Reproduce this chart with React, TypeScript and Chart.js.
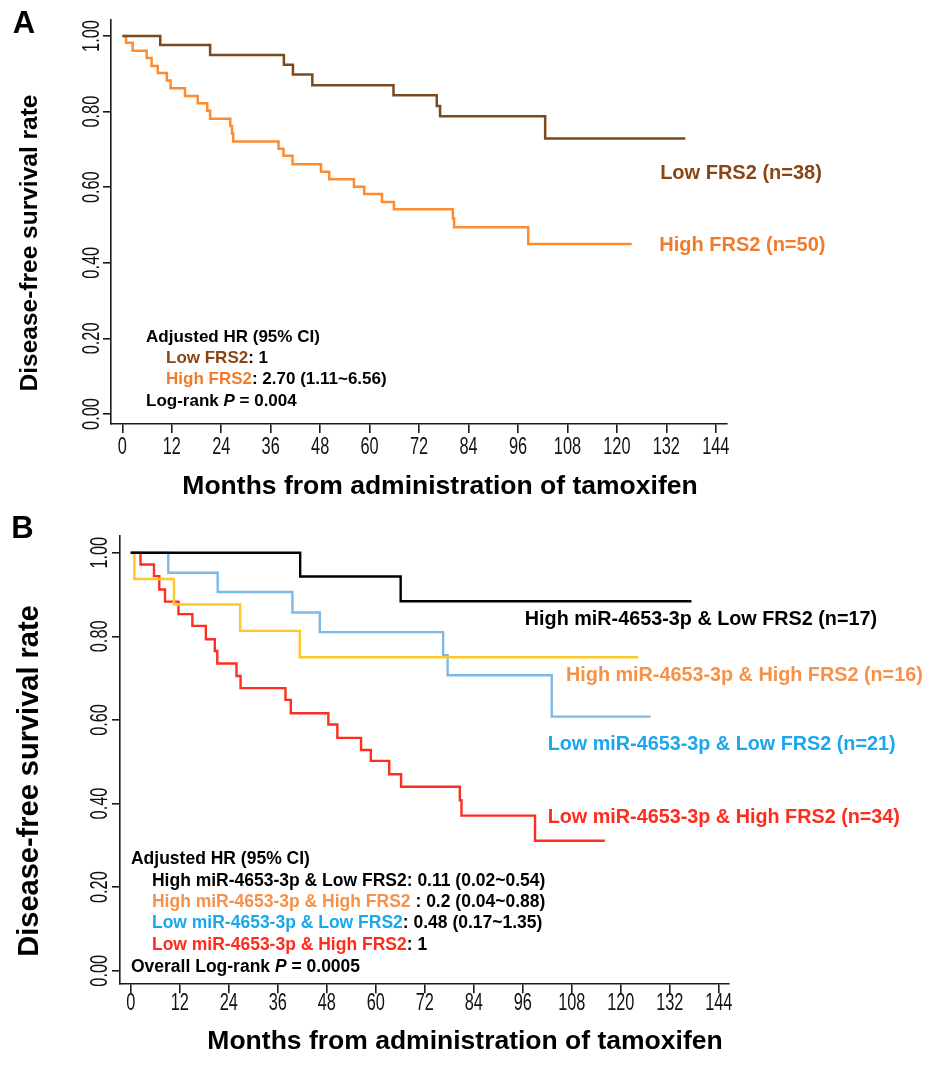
import { useEffect, useRef } from "react";
import { Chart, registerables } from "chart.js";

Chart.register(...registerables);

// ---------------- shared axis data ----------------
const monthTicks = [0, 12, 24, 36, 48, 60, 72, 84, 96, 108, 120, 132, 144];
const monthTickLabels = ["0", "12", "24", "36", "48", "60", "72", "84", "96", "108", "120", "132", "144"];
const survivalTicks = [0, 0.2, 0.4, 0.6, 0.8, 1.0];
const survivalTickLabels = ["0.00", "0.20", "0.40", "0.60", "0.80", "1.00"];

// ---------------- panel A : FRS2 ----------------
const lowFrs2Months = [0, 9.2, 21.3, 39.2, 41.4, 46.1, 65.8, 76.3, 77.1, 102.6, 136.6];
const lowFrs2Survival = [1, 0.976, 0.95, 0.924, 0.898, 0.87, 0.843, 0.815, 0.788, 0.729, 0.729];

const highFrs2Months = [
  0, 0.9, 2.5, 5.9, 7.1, 8.6, 10.8, 11.7, 15.2, 18.3, 20.6, 21.3, 26.2, 26.6, 26.9, 37.9, 39.1,
  41.3, 48.2, 50.2, 56.2, 58.7, 63.0, 65.9, 80.2, 80.5, 98.5, 123.6,
];
const highFrs2Survival = [
  1, 0.982, 0.961, 0.942, 0.921, 0.902, 0.882, 0.862, 0.841, 0.822, 0.802, 0.781, 0.762, 0.742,
  0.721, 0.702, 0.683, 0.661, 0.641, 0.621, 0.601, 0.582, 0.561, 0.542, 0.518, 0.494, 0.45, 0.45,
];

// ---------------- panel B : miR-4653-3p x FRS2 ----------------
const highMirLowFrs2Months = [0, 41.5, 66.1, 137.3];
const highMirLowFrs2Survival = [1, 0.943, 0.884, 0.884];

const highMirHighFrs2Months = [0, 0.9, 10.6, 26.8, 41.4, 124.3];
const highMirHighFrs2Survival = [1, 0.937, 0.876, 0.813, 0.75, 0.75];

const lowMirLowFrs2Months = [0, 9.2, 21.3, 39.6, 46.3, 76.5, 77.6, 103.1, 127.3];
const lowMirLowFrs2Survival = [1, 0.952, 0.906, 0.857, 0.81, 0.755, 0.707, 0.608, 0.608];

const lowMirHighFrs2Months = [
  0, 2.4, 5.7, 7.0, 8.4, 11.7, 15.1, 18.4, 20.6, 21.2, 25.9, 26.9, 37.9, 39.2, 48.4, 50.6, 56.4,
  58.8, 63.3, 66.2, 80.6, 81.0, 99.0, 116.1,
];
const lowMirHighFrs2Survival = [
  1, 0.972, 0.944, 0.912, 0.883, 0.853, 0.825, 0.793, 0.765, 0.735, 0.705, 0.676, 0.648, 0.616,
  0.589, 0.557, 0.528, 0.502, 0.47, 0.44, 0.408, 0.371, 0.311, 0.311,
];

// ---------------- text ----------------
const Y_TITLE = "Disease-free survival rate";
const X_TITLE = "Months from administration of tamoxifen";

const SANS = '"Liberation Sans", Arial, Helvetica, sans-serif';

type Seg = { text: string; color: string; italic?: boolean };
type TextLine = { x: number; y: number; segs: Seg[] };
type Series = { months: number[]; surv: number[]; color: string; width: number };

type PanelCfg = {
  height: number;
  padding: { top: number; left: number; right: number; bottom: number };
  yAxisWidth: number;
  xAxisHeight: number;
  xMin: number;
  xMax: number;
  yMin: number;
  yMax: number;
  xTickLen: number;
  yTickLen: number;
  xLabelOffset: number;
  yLabelOffset: number;
  series: Series[];
  labels: TextLine[];
  labelSize: number;
  notes: TextLine[];
  noteSize: number;
  yTitle: { x: number; y: number; size: number };
  xTitle: { x: number; y: number; size: number };
  letter: { text: string; x: number; y: number; size: number };
};

const TICK_FONT_SIZE = 23;
const TICK_SQUEEZE = 0.71;

const BROWN_LINE = "#7a4a1f";
const BROWN_TEXT = "#8b4513";
const ORANGE_LINE = "#ff8b2d";
const ORANGE_TEXT = "#f07b2c";
const BLACK = "#000000";
const YELLOW_LINE = "#ffc72c";
const BLUE_LINE = "#7db9e8";
const RED_LINE = "#ff2d1f";
const ORANGE_B_TEXT = "#f5924a";
const BLUE_TEXT = "#1aa7ec";
const RED_TEXT = "#ff2b1c";

const panelA: PanelCfg = {
  height: 512,
  padding: { top: 20, left: 0, right: 200.5, bottom: 0 },
  yAxisWidth: 111,
  xAxisHeight: 88,
  xMin: -2.75,
  xMax: 146.6,
  yMin: -0.0265,
  yMax: 1.0424,
  xTickLen: 9,
  yTickLen: 8,
  xLabelOffset: 24,
  yLabelOffset: 18,
  series: [
    { months: lowFrs2Months, surv: lowFrs2Survival, color: BROWN_LINE, width: 2.5 },
    { months: highFrs2Months, surv: highFrs2Survival, color: ORANGE_LINE, width: 2.5 },
  ],
  labels: [
    { x: 130.5, y: 0.635, segs: [{ text: "Low FRS2 (n=38)", color: BROWN_TEXT }] },
    { x: 130.3, y: 0.447, segs: [{ text: "High FRS2 (n=50)", color: ORANGE_TEXT }] },
  ],
  labelSize: 20,
  notes: [
    { x: 5.75, y: 0.204, segs: [{ text: "Adjusted HR (95% CI)", color: BLACK }] },
    {
      x: 10.6,
      y: 0.148,
      segs: [
        { text: "Low FRS2", color: BROWN_TEXT },
        { text: ": 1", color: BLACK },
      ],
    },
    {
      x: 10.6,
      y: 0.093,
      segs: [
        { text: "High FRS2", color: ORANGE_TEXT },
        { text: ": 2.70 (1.11~6.56)", color: BLACK },
      ],
    },
    {
      x: 5.75,
      y: 0.034,
      segs: [
        { text: "Log-rank ", color: BLACK },
        { text: "P", color: BLACK, italic: true },
        { text: " = 0.004", color: BLACK },
      ],
    },
  ],
  noteSize: 17,
  yTitle: { x: 30, y: 243, size: 24.5 },
  xTitle: { x: 440, y: 487, size: 26.5 },
  letter: { text: "A", x: 24, y: 24, size: 31 },
};

const panelB: PanelCfg = {
  height: 553,
  padding: { top: 24, left: 0, right: 198, bottom: 0 },
  yAxisWidth: 120,
  xAxisHeight: 81.7,
  xMin: -2.62,
  xMax: 146.5,
  yMin: -0.03,
  yMax: 1.04,
  xTickLen: 10,
  yTickLen: 8,
  xLabelOffset: 20.5,
  yLabelOffset: 19,
  series: [
    { months: highMirLowFrs2Months, surv: highMirLowFrs2Survival, color: BLACK, width: 2.4 },
    { months: highMirHighFrs2Months, surv: highMirHighFrs2Survival, color: YELLOW_LINE, width: 2.4 },
    { months: lowMirLowFrs2Months, surv: lowMirLowFrs2Survival, color: BLUE_LINE, width: 2.4 },
    { months: lowMirHighFrs2Months, surv: lowMirHighFrs2Survival, color: RED_LINE, width: 2.4 },
  ],
  labels: [
    { x: 96.5, y: 0.841, segs: [{ text: "High miR-4653-3p & Low FRS2 (n=17)", color: BLACK }] },
    { x: 106.6, y: 0.707, segs: [{ text: "High miR-4653-3p & High FRS2 (n=16)", color: ORANGE_B_TEXT }] },
    { x: 102.1, y: 0.542, segs: [{ text: "Low miR-4653-3p & Low FRS2 (n=21)", color: BLUE_TEXT }] },
    { x: 102.1, y: 0.366, segs: [{ text: "Low miR-4653-3p & High FRS2 (n=34)", color: RED_TEXT }] },
  ],
  labelSize: 19.8,
  notes: [
    { x: 0.07, y: 0.267, segs: [{ text: "Adjusted HR (95% CI)", color: BLACK }] },
    {
      x: 5.2,
      y: 0.215,
      segs: [
        { text: "High miR-4653-3p & Low FRS2", color: BLACK },
        { text: ": 0.11 (0.02~0.54)", color: BLACK },
      ],
    },
    {
      x: 5.2,
      y: 0.165,
      segs: [
        { text: "High miR-4653-3p & High FRS2", color: ORANGE_B_TEXT },
        { text: " : 0.2 (0.04~0.88)", color: BLACK },
      ],
    },
    {
      x: 5.2,
      y: 0.113,
      segs: [
        { text: "Low miR-4653-3p & Low FRS2", color: BLUE_TEXT },
        { text: ": 0.48 (0.17~1.35)", color: BLACK },
      ],
    },
    {
      x: 5.2,
      y: 0.061,
      segs: [
        { text: "Low miR-4653-3p & High FRS2", color: RED_TEXT },
        { text: ": 1", color: BLACK },
      ],
    },
    {
      x: 0.07,
      y: 0.0096,
      segs: [
        { text: "Overall Log-rank ", color: BLACK },
        { text: "P", color: BLACK, italic: true },
        { text: " = 0.0005", color: BLACK },
      ],
    },
  ],
  noteSize: 17.5,
  yTitle: { x: 30, y: 269, size: 29 },
  xTitle: { x: 465, y: 530, size: 26.5 },
  letter: { text: "B", x: 22.5, y: 17, size: 31 },
};

function drawSegs(ctx: CanvasRenderingContext2D, x: number, y: number, segs: Seg[], size: number) {
  let cx = x;
  for (const s of segs) {
    ctx.font = `${s.italic ? "italic " : ""}bold ${size}px ${SANS}`;
    ctx.fillStyle = s.color;
    ctx.fillText(s.text, cx, y);
    cx += ctx.measureText(s.text).width;
  }
}

function makeTextPlugin(cfg: PanelCfg) {
  return {
    id: "kmText",
    afterDraw(chart: any) {
      const ctx: CanvasRenderingContext2D = chart.ctx;
      const xs = chart.scales.x;
      const ys = chart.scales.y;
      ctx.save();

      // narrow tick labels, placed at the scales' own tick positions
      ctx.fillStyle = "#111";
      ctx.font = `${TICK_FONT_SIZE}px ${SANS}`;
      ctx.textAlign = "center";
      ctx.textBaseline = "middle";
      xs.ticks.forEach((t: any) => {
        const idx = monthTicks.indexOf(t.value);
        if (idx < 0) return;
        ctx.save();
        ctx.translate(xs.getPixelForValue(t.value), xs.top + cfg.xLabelOffset);
        ctx.scale(TICK_SQUEEZE, 1);
        ctx.fillText(monthTickLabels[idx], 0, 0);
        ctx.restore();
      });
      ys.ticks.forEach((t: any) => {
        const idx = survivalTicks.findIndex((v) => Math.abs(v - t.value) < 1e-9);
        if (idx < 0) return;
        ctx.save();
        ctx.translate(ys.right - cfg.yLabelOffset, ys.getPixelForValue(t.value));
        ctx.rotate(-Math.PI / 2);
        ctx.scale(TICK_SQUEEZE, 1);
        ctx.fillText(survivalTickLabels[idx], 0, 0);
        ctx.restore();
      });

      // curve labels and HR notes
      ctx.textAlign = "left";
      ctx.textBaseline = "middle";
      for (const l of cfg.labels) {
        drawSegs(ctx, xs.getPixelForValue(l.x), ys.getPixelForValue(l.y), l.segs, cfg.labelSize);
      }
      for (const n of cfg.notes) {
        drawSegs(ctx, xs.getPixelForValue(n.x), ys.getPixelForValue(n.y), n.segs, cfg.noteSize);
      }

      // axis titles
      ctx.fillStyle = "#000";
      ctx.textAlign = "center";
      ctx.font = `bold ${cfg.xTitle.size}px ${SANS}`;
      ctx.fillText(X_TITLE, cfg.xTitle.x, cfg.xTitle.y);
      ctx.save();
      ctx.translate(cfg.yTitle.x, cfg.yTitle.y);
      ctx.rotate(-Math.PI / 2);
      ctx.font = `bold ${cfg.yTitle.size}px ${SANS}`;
      ctx.fillText(Y_TITLE, 0, 0);
      ctx.restore();

      // panel letter
      ctx.font = `bold ${cfg.letter.size}px ${SANS}`;
      ctx.fillText(cfg.letter.text, cfg.letter.x, cfg.letter.y);
      ctx.restore();
    },
  };
}

function KMPanel({ cfg }: { cfg: PanelCfg }) {
  const ref = useRef<HTMLCanvasElement | null>(null);
  useEffect(() => {
    if (!ref.current) return;
    const axisColor = "#1a1a1a";
    const chart = new Chart(ref.current, {
      type: "line",
      data: {
        datasets: cfg.series.map((s) => ({
          data: s.months.map((m, i) => ({ x: m, y: s.surv[i] })),
          borderColor: s.color,
          backgroundColor: s.color,
          borderWidth: s.width,
          stepped: "before" as const,
          pointRadius: 0,
          fill: false,
          tension: 0,
        })),
      },
      options: {
        responsive: false,
        animation: false,
        events: [],
        layout: { padding: cfg.padding },
        plugins: {
          legend: { display: false },
          tooltip: { enabled: false },
          title: { display: false },
        },
        scales: {
          x: {
            type: "linear",
            min: cfg.xMin,
            max: cfg.xMax,
            afterBuildTicks: (s: any) => {
              s.ticks = monthTicks.map((v) => ({ value: v }));
            },
            afterFit: (s: any) => {
              s.height = cfg.xAxisHeight;
            },
            border: { display: true, color: axisColor, width: 1.6 },
            grid: {
              display: true,
              drawOnChartArea: false,
              drawTicks: true,
              tickLength: cfg.xTickLen,
              color: axisColor,
              lineWidth: 1.6,
            },
            ticks: { display: false, autoSkip: false, minRotation: 0, maxRotation: 0 },
          },
          y: {
            type: "linear",
            min: cfg.yMin,
            max: cfg.yMax,
            afterBuildTicks: (s: any) => {
              s.ticks = survivalTicks.map((v) => ({ value: v }));
            },
            afterFit: (s: any) => {
              s.width = cfg.yAxisWidth;
            },
            border: { display: true, color: axisColor, width: 1.6 },
            grid: {
              display: true,
              drawOnChartArea: false,
              drawTicks: true,
              tickLength: cfg.yTickLen,
              color: axisColor,
              lineWidth: 1.6,
            },
            ticks: { display: false, autoSkip: false },
          },
        },
      } as any,
      plugins: [makeTextPlugin(cfg)],
    });
    return () => chart.destroy();
  }, [cfg]);
  return <canvas ref={ref} width={927} height={cfg.height} style={{ display: "block" }} />;
}

export default function App() {
  return (
    <div style={{ position: "absolute", left: 0, top: 0, width: 927, height: 1065, background: "#fff" }}>
      <KMPanel cfg={panelA} />
      <KMPanel cfg={panelB} />
    </div>
  );
}
